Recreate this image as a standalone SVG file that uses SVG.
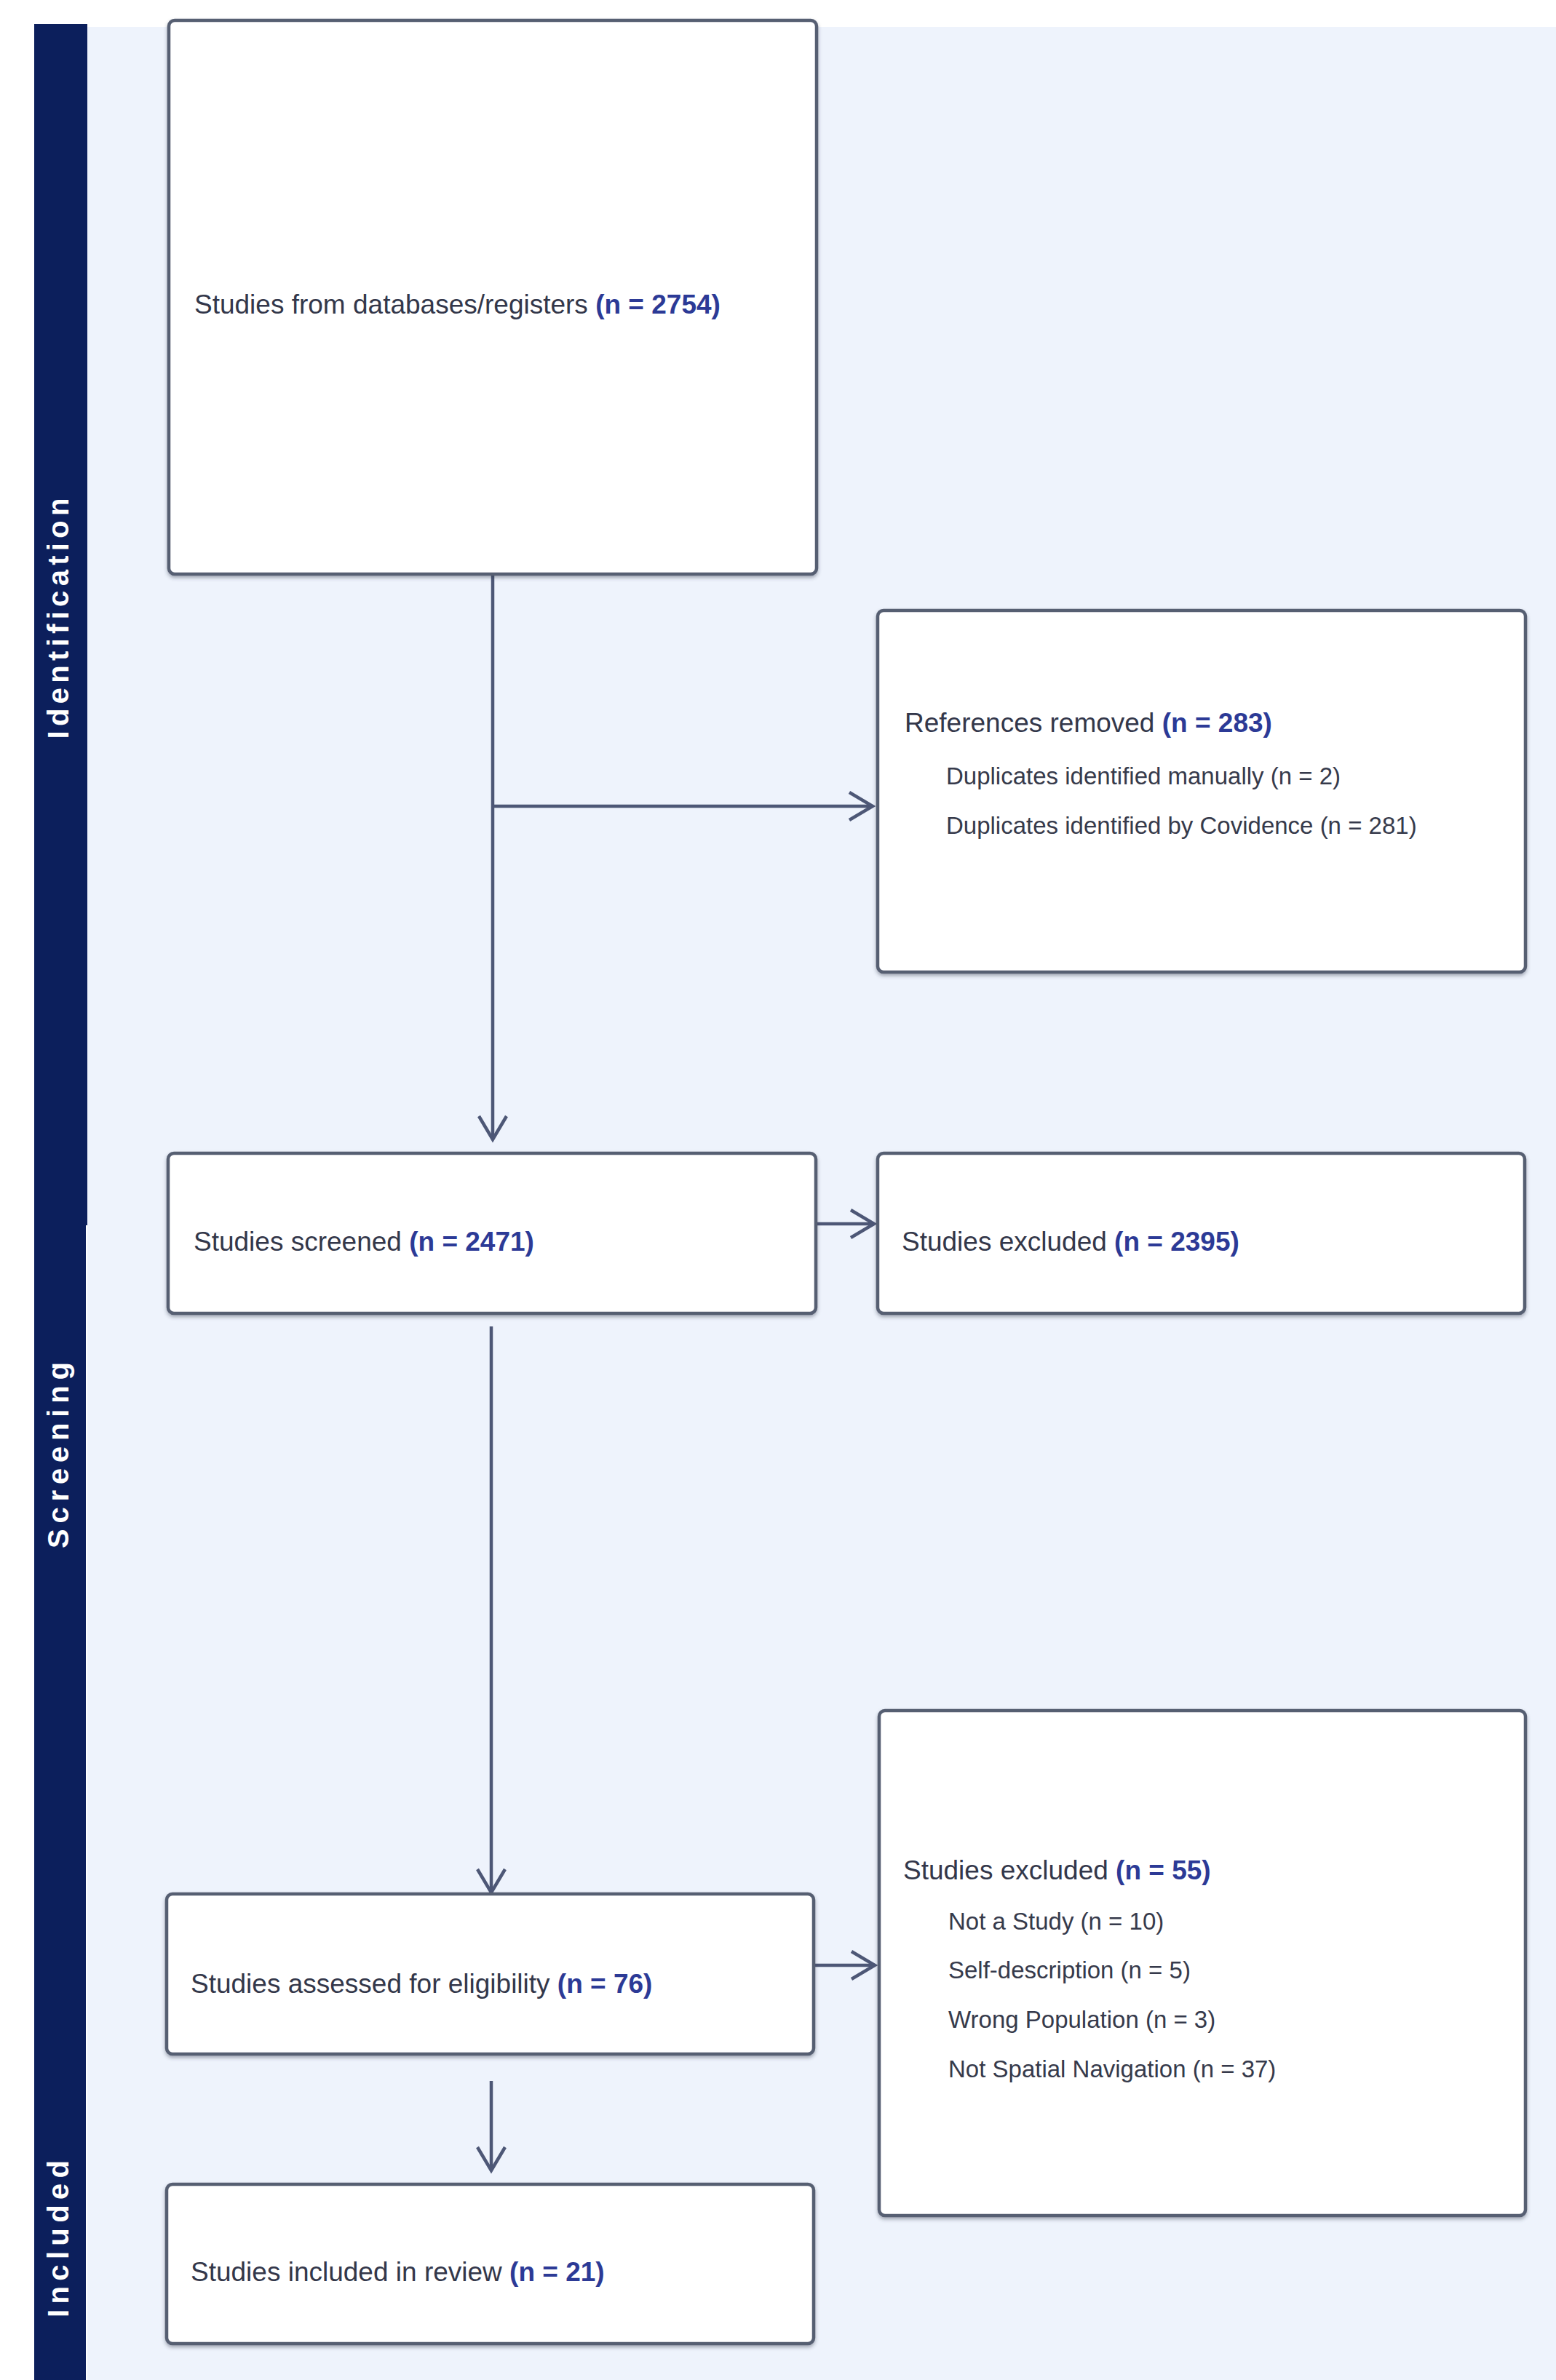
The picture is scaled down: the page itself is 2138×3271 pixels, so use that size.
<svg xmlns="http://www.w3.org/2000/svg" width="2138" height="3271" viewBox="0 0 2138 3271">
<style>
.box{fill:#ffffff;stroke:#575e72;stroke-width:4.5;filter:url(#sh)}
.t{font-family:"Liberation Sans",Arial,sans-serif;font-size:37px;fill:#33374a}
.s{font-family:"Liberation Sans",Arial,sans-serif;font-size:33px;fill:#363a4b}
.n{fill:#2c3a96;font-weight:bold}
.side{fill:#0c1f5c}
.lab{font-family:"Liberation Sans",Arial,sans-serif;font-size:40px;font-weight:bold;fill:#ffffff;text-anchor:middle}
.c{fill:none;stroke:#4d5776;stroke-width:4.5}
</style>
<defs>
<filter id="sh" x="-5%" y="-5%" width="110%" height="115%">
<feDropShadow dx="0" dy="3" stdDeviation="2.5" flood-color="#30364a" flood-opacity="0.4"/>
</filter>
<marker id="ah" markerUnits="userSpaceOnUse" markerWidth="44" markerHeight="48" refX="38" refY="24" orient="auto" viewBox="0 0 44 48">
<path d="M6,5 L38,24 L6,43" fill="none" stroke="#4d5776" stroke-width="4.5"/>
</marker>
</defs>
<rect x="0" y="0" width="2138" height="3271" fill="#ffffff"/>
<rect x="120" y="37" width="2018" height="3234" fill="#eef3fc"/>
<g id="sidebar">
<rect class="side" x="47" y="33" width="73" height="1651"/>
<rect class="side" x="47" y="1684" width="71" height="1176"/>
<rect class="side" x="47" y="2860" width="71" height="411"/>
<text class="lab" transform="translate(94,850) rotate(-90)" textLength="331">Identification</text>
<text class="lab" transform="translate(94,2000) rotate(-90)" textLength="256">Screening</text>
<text class="lab" transform="translate(94,3077) rotate(-90)" textLength="216">Included</text>
</g>
<g id="connectors">
<line class="c" x1="677" y1="789" x2="677" y2="1566" marker-end="url(#ah)"/>
<line class="c" x1="677" y1="1108" x2="1199" y2="1108" marker-end="url(#ah)"/>
<line class="c" x1="1121" y1="1682" x2="1201" y2="1682" marker-end="url(#ah)"/>
<line class="c" x1="675" y1="1823" x2="675" y2="2601" marker-end="url(#ah)"/>
<line class="c" x1="1118" y1="2701" x2="1202" y2="2701" marker-end="url(#ah)"/>
<line class="c" x1="675" y1="2860" x2="675" y2="2983" marker-end="url(#ah)"/>
</g>
<g id="node-databases">
<rect class="box" x="232" y="28" width="890" height="761" rx="8"/>
<text class="t" x="267" y="431">Studies from databases/registers <tspan class="n">(n = 2754)</tspan></text>
</g>
<g id="node-removed">
<rect class="box" x="1206" y="839" width="890" height="497" rx="8"/>
<text class="t" x="1243" y="1006">References removed <tspan class="n">(n = 283)</tspan></text>
<text class="s" x="1300" y="1078">Duplicates identified manually (n = 2)</text>
<text class="s" x="1300" y="1146">Duplicates identified by Covidence (n = 281)</text>
</g>
<g id="node-screened">
<rect class="box" x="231" y="1585" width="890" height="220" rx="8"/>
<text class="t" x="266" y="1719">Studies screened <tspan class="n">(n = 2471)</tspan></text>
</g>
<g id="node-excluded1">
<rect class="box" x="1206" y="1585" width="889" height="220" rx="8"/>
<text class="t" x="1239" y="1719">Studies excluded <tspan class="n">(n = 2395)</tspan></text>
</g>
<g id="node-assessed">
<rect class="box" x="229" y="2603" width="889" height="220" rx="8"/>
<text class="t" x="262" y="2739">Studies assessed for eligibility <tspan class="n">(n = 76)</tspan></text>
</g>
<g id="node-excluded2">
<rect class="box" x="1208" y="2351" width="888" height="694" rx="8"/>
<text class="t" x="1241" y="2583">Studies excluded <tspan class="n">(n = 55)</tspan></text>
<text class="s" x="1303" y="2652">Not a Study (n = 10)</text>
<text class="s" x="1303" y="2719">Self-description (n = 5)</text>
<text class="s" x="1303" y="2787">Wrong Population (n = 3)</text>
<text class="s" x="1303" y="2855">Not Spatial Navigation (n = 37)</text>
</g>
<g id="node-included">
<rect class="box" x="229" y="3002" width="889" height="219" rx="8"/>
<text class="t" x="262" y="3135">Studies included in review <tspan class="n">(n = 21)</tspan></text>
</g>
</svg>
